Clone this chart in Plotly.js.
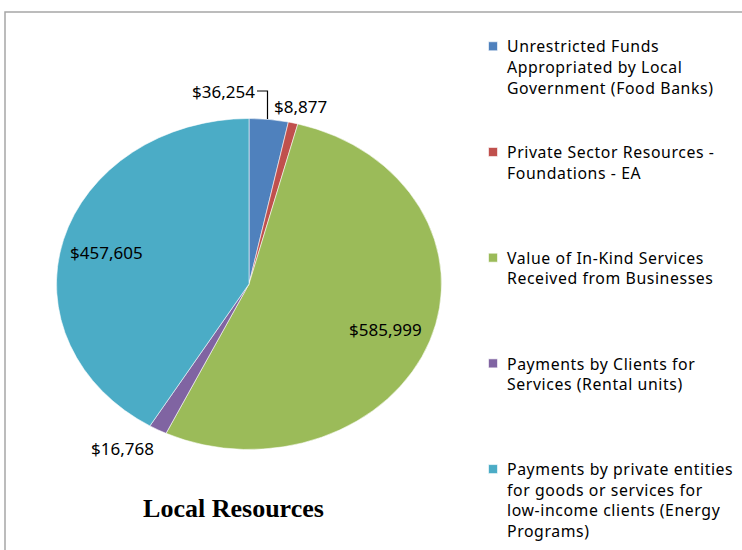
<!DOCTYPE html>
<html><head><meta charset="utf-8">
<script src="https://cdn.plot.ly/plotly-3.0.1.min.js"></script>
<style>html,body{margin:0;padding:0;background:#fff}#chart{width:742px;height:550px}
.legendtext{letter-spacing:0.6px}</style>
</head><body><div id="chart"></div>
<script>
// ---- data ----
const categories = [
  ['Unrestricted Funds', 'Appropriated by Local', 'Government (Food Banks)'],
  ['Private Sector Resources -', 'Foundations - EA'],
  ['Value of In-Kind Services', 'Received from Businesses'],
  ['Payments by Clients for', 'Services (Rental units)'],
  ['Payments by private entities', 'for goods or services for', 'low-income clients (Energy', 'Programs)']
];
const values = [36254, 8877, 585999, 16768, 457605];
const colors = ['#4F81BD', '#C0504D', '#9BBB59', '#8064A2', '#4BACC6'];
const chartTitle = 'Local Resources';

// ---- layout helpers (pixels) ----
const W = 742, H = 550;
const px = x => x / W, py = y => 1 - y / H;
const cx = 249, cy = 284, rx = 192.5, ry = 165.5;
const labelPos = [[223.5, 91], [300, 106], [385, 329], [122, 448], [107, 253]];

const legendLabels = categories.map((lines, i) => {
  const l = lines.slice();
  if (i < categories.length - 1) while (l.length < 5) l.push(' ');
  return l.join('<br>');
});
const fmt = v => '$' + v.toLocaleString('en-US');

const trace = {
  type: 'pie',
  labels: legendLabels,
  values: values,
  sort: false,
  direction: 'clockwise',
  rotation: 0,
  textinfo: 'none',
  hoverinfo: 'none',
  marker: {colors: colors, line: {color: '#ffffff', width: 0.6}},
  domain: {x: [px(cx - rx), px(cx + rx)], y: [py(cy + rx), py(cy - rx)]}
};

const annotations = values.map((v, i) => ({
  text: fmt(v), x: px(labelPos[i][0]), y: py(labelPos[i][1]),
  xref: 'paper', yref: 'paper', xanchor: 'center', yanchor: 'middle',
  showarrow: false, font: {family: 'Noto Sans', size: 17, color: '#000'}
}));

const layout = {
  width: W, height: H,
  margin: {l: 0, r: 0, t: 0, b: 0},
  paper_bgcolor: '#fff',
  showlegend: true,
  legend: {
    x: px(467), xanchor: 'left', y: py(29.5), yanchor: 'top',
    valign: 'top', bgcolor: 'rgba(0,0,0,0)',
    font: {family: 'Noto Sans', size: 15.8, color: '#000'},
    tracegroupgap: 0
  },
  title: {
    text: '<b>' + chartTitle + '</b>',
    x: px(233.5), xanchor: 'center', xref: 'paper',
    y: py(508), yanchor: 'middle', yref: 'paper',
    font: {family: 'Liberation Serif', size: 26, color: '#000'}
  },
  annotations: annotations,
  shapes: [
    {type: 'rect', xref: 'paper', yref: 'paper', x0: px(5), y0: py(12), x1: 1.05, y1: -0.05,
     line: {color: '#a6a6a6', width: 1.5}, fillcolor: 'rgba(0,0,0,0)'},
    {type: 'path', xref: 'paper', yref: 'paper',
     path: `M${px(257)},${py(91)} L${px(267.5)},${py(91)} L${px(267.5)},${py(119)}`,
     line: {color: '#000', width: 1.2}}
  ]
};

Plotly.newPlot('chart', [trace], layout, {displayModeBar: false, staticPlot: true}).then(() => {
  const s = ry / rx;
  document.querySelectorAll('.pielayer').forEach(g =>
    g.setAttribute('transform', `translate(0,${cy * (1 - s)}) scale(1,${s})`));
  document.querySelectorAll('.legend path.legendpie').forEach(p => {
    p.setAttribute('d', 'M4.5,4.5H-4.5V-4.5H4.5Z');
    p.setAttribute('transform', 'translate(26,0)');
  });
});
</script>
</body></html>
